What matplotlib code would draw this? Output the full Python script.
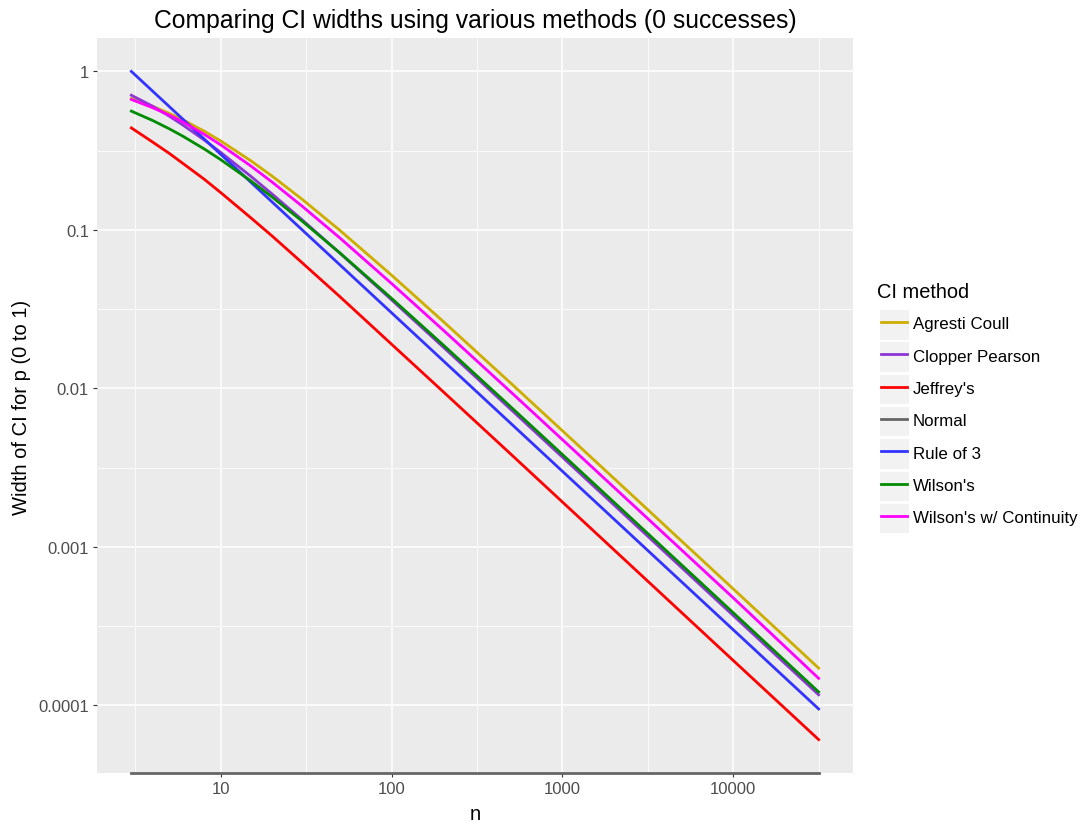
import matplotlib.pyplot as plt
import numpy as np
from matplotlib.patches import Rectangle
from matplotlib.lines import Line2D
from matplotlib.ticker import FixedLocator, NullFormatter

plt.rcParams['font.family'] = ['Liberation Sans', 'DejaVu Sans']

# sample sizes and CI widths for 0 successes
n = [3, 4, 5, 6, 8, 10, 15, 20, 30, 50, 100, 200, 500, 1000, 3000, 10000, 31623]

agresti = [0.6735, 0.6020, 0.5436, 0.4953, 0.4199, 0.3642, 0.2732, 0.2185, 0.1559,
           0.09909, 0.05183, 0.02653, 0.01076, 0.005407, 0.001808, 0.0005431, 0.00017177]
clopper = [0.7076, 0.6024, 0.5218, 0.4593, 0.3694, 0.3085, 0.2180, 0.1684, 0.1157,
           0.0711, 0.0362, 0.01828, 0.007351, 0.003682, 0.001229, 0.0003688, 0.0001166]
jeffrey = [0.440, 0.358, 0.304, 0.263, 0.209, 0.172, 0.1193, 0.0915, 0.0620,
           0.0378, 0.0190, 0.00956, 0.00384, 0.00192, 0.000640, 0.000192, 0.0000608]
normal = [0] * len(n)
rule3 = [1.0, 0.75, 0.6, 0.5, 0.375, 0.3, 0.2, 0.15, 0.1,
         0.06, 0.03, 0.015, 0.006, 0.003, 0.001, 0.0003, 0.0000949]
wilson = [0.5615, 0.4899, 0.4345, 0.3903, 0.3244, 0.2775, 0.2039, 0.1611, 0.1135,
          0.07135, 0.03699, 0.01885, 0.007624, 0.003827, 0.001279, 0.000384, 0.0001215]
wilson_cc = [0.665, 0.590, 0.530, 0.480, 0.401, 0.3440, 0.2532, 0.2003, 0.1410,
             0.0887, 0.0459, 0.02340, 0.00947, 0.004752, 0.001588, 0.0004769, 0.0001480]

methods = ["Agresti Coull", "Clopper Pearson", "Jeffrey's", "Normal",
           "Rule of 3", "Wilson's", "Wilson's w/ Continuity"]
widths = [agresti, clopper, jeffrey, normal, rule3, wilson, wilson_cc]
colours = ["#CDAD00", "#8E35D6", "#FF0000", "#666666", "#3333FF", "#008B00", "#FF00FF"]

W, H = 1084, 829
fig = plt.figure(figsize=(W / 100, H / 100), dpi=100)
fig.patch.set_facecolor("white")

def fx(px):
    return px / W

def fy(py):
    return 1 - py / H

left, right, top, bottom = 97, 853, 39, 774
ax = fig.add_axes([fx(left), fy(bottom), fx(right - left), fy(top) - fy(bottom)])
ax.set_facecolor("#EBEBEB")
for s in ax.spines.values():
    s.set_visible(False)

ax.set_xscale("log")
ax.set_yscale("log")

# ggplot style 5% expansion in log space
lx = np.log10(n)
xpad = 0.05 * (lx.max() - lx.min())
ax.set_xlim(10 ** (lx.min() - xpad), 10 ** (lx.max() + xpad))
pos = np.array([v for w in widths for v in w if v > 0])
ly = np.log10(pos)
ypad = 0.05 * (ly.max() - ly.min())
ax.set_ylim(10 ** (ly.min() - ypad), 10 ** (ly.max() + ypad))

xmaj = [10, 100, 1000, 10000]
ymaj = [1, 0.1, 0.01, 0.001, 0.0001]
ax.xaxis.set_major_locator(FixedLocator(xmaj))
ax.xaxis.set_minor_locator(FixedLocator([10 ** (k + 0.5) for k in range(0, 5)]))
ax.yaxis.set_major_locator(FixedLocator(ymaj))
ax.yaxis.set_minor_locator(FixedLocator([10 ** (-k - 0.5) for k in range(0, 5)]))
ax.set_xticklabels(["10", "100", "1000", "10000"])
ax.set_yticklabels(["1", "0.1", "0.01", "0.001", "0.0001"])
ax.xaxis.set_minor_formatter(NullFormatter())
ax.yaxis.set_minor_formatter(NullFormatter())

ax.grid(True, which="major", color="white", lw=1.1)
ax.grid(True, which="minor", color="white", lw=0.55)
ax.set_axisbelow(True)
ax.tick_params(which="major", length=3.2, width=0.8, color="#333333",
               labelcolor="#4D4D4D", labelsize=12, pad=2.5)
ax.tick_params(which="minor", length=0)

ybot = ax.get_ylim()[0]
for name, w, c in zip(methods, widths, colours):
    vals = np.array(w, dtype=float)
    if name == "Normal":
        # zero width sits on the bottom edge of the log axis
        vals = np.maximum(vals, ybot)
        ax.plot(n, vals, color=c, lw=2.0, clip_on=False, zorder=3)
    else:
        ax.plot(n, vals, color=c, lw=2.0, zorder=3)

fig.text(fx(475), fy(21), "Comparing CI widths using various methods (0 successes)",
         ha="center", va="center", fontsize=17.8, color="black")
fig.text(fx(475), fy(815), "n", ha="center", va="center", fontsize=14.5, color="black")
fig.text(fx(22), fy(407), "Width of CI for p (0 to 1)", ha="center", va="center",
         rotation=90, fontsize=14.5, color="black")

# legend
fig.text(fx(877), fy(293), "CI method", ha="left", va="center", fontsize=14.4)
row0, step = 325, 32.3
for i, (name, c) in enumerate(zip(methods, colours)):
    yc = row0 + i * step
    fig.patches.append(Rectangle((fx(879), fy(yc + 15.5)), fx(30), fy(yc - 15) - fy(yc + 15.5),
                                 transform=fig.transFigure, facecolor="#F2F2F2",
                                 edgecolor="white", lw=0.8))
    fig.lines.append(Line2D([fx(881), fx(907)], [fy(yc - 2), fy(yc - 2)],
                            transform=fig.transFigure, color=c, lw=2.0))
    fig.text(fx(913), fy(yc), name, ha="left", va="center", fontsize=12.2, color="black")

fig.savefig("out.png", dpi=100)
